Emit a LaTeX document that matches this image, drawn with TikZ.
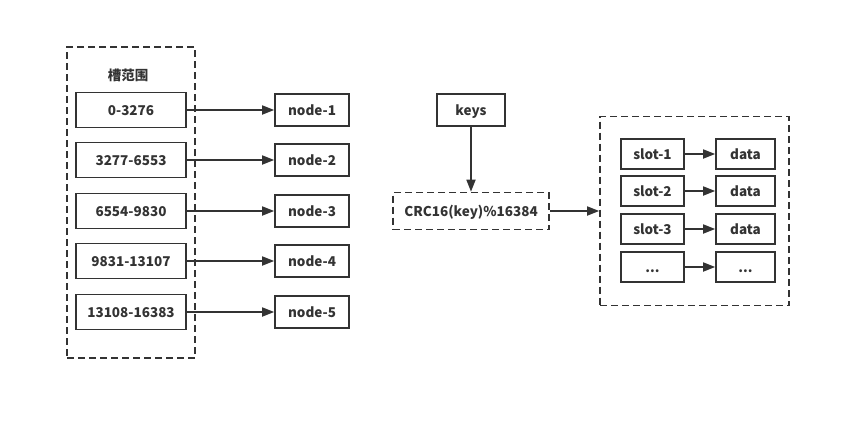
\documentclass[tikz,border=0pt]{standalone}
\usepackage{fontspec}
\setmainfont{Noto Sans CJK SC}
\usetikzlibrary{arrows.meta}
\definecolor{ink}{HTML}{333333}

\begin{document}
\begin{tikzpicture}[x=1pt,y=-1pt,
  font=\fontsize{13.5}{15}\selectfont\bfseries, text=ink,
  box/.style={draw=ink, line width=1.7pt, inner sep=0pt, text height=11pt, text depth=0pt, minimum width=#1},
  frame/.style={draw=ink, line width=1.7pt, dash pattern=on 7pt off 4pt, inner sep=0pt},
  link/.style={draw=ink, line width=1.7pt, -{Triangle[length=12pt,width=9pt]}}]
 \useasboundingbox (0,0) rectangle (850,421);

 % slot ranges
 \node[frame, minimum width=128pt, minimum height=311pt] (ranges) at (131,202.5) {};
 \node (title) at (128,75) {槽范围};
 \node[box=110pt, minimum height=35pt] (r1) at (131,110) {0-3276};
 \node[box=110pt, minimum height=35pt] (r2) at (131,160) {3277-6553};
 \node[box=110pt, minimum height=35pt] (r3) at (131,211) {6554-9830};
 \node[box=110pt, minimum height=35pt] (r4) at (131,261) {9831-13107};
 \node[box=110pt, minimum height=35pt] (r5) at (131,312) {13108-16383};

 \node[box=74pt, minimum height=32pt] (n1) at (312,110) {node-1};
 \node[box=74pt, minimum height=32pt] (n2) at (312,160) {node-2};
 \node[box=74pt, minimum height=32pt] (n3) at (312,211) {node-3};
 \node[box=74pt, minimum height=32pt] (n4) at (312,261) {node-4};
 \node[box=74pt, minimum height=32pt] (n5) at (312,312) {node-5};

 \draw[link] (r1.east) -- (n1.west);
 \draw[link] (r2.east) -- (n2.west);
 \draw[link] (r3.east) -- (n3.west);
 \draw[link] (r4.east) -- (n4.west);
 \draw[link] (r5.east) -- (n5.west);

 % hashing
 \node[box=68pt, minimum height=32pt] (keys) at (471,110) {keys};
 \node[frame, text height=11pt, text depth=0pt, minimum width=156pt, minimum height=37pt] (crc) at (471,211) {CRC16(key)\%16384};
 \draw[link] (keys.south) -- (crc.north);

 % slots
 \node[frame, minimum width=189pt, minimum height=189pt] (slots) at (694.5,211) {};
 \draw[link] (crc.east) -- (slots.west);

 \node[box=63pt, minimum height=30pt] (s1) at (652.5,154) {slot-1};
 \node[box=63pt, minimum height=30pt] (s2) at (652.5,191) {slot-2};
 \node[box=63pt, minimum height=30pt] (s3) at (652.5,229) {slot-3};
 \node[box=63pt, minimum height=30pt] (s4) at (652.5,267) {...};

 \node[box=59pt, minimum height=30pt] (d1) at (745.5,154) {data};
 \node[box=59pt, minimum height=30pt] (d2) at (745.5,191) {data};
 \node[box=59pt, minimum height=30pt] (d3) at (745.5,229) {data};
 \node[box=59pt, minimum height=30pt] (d4) at (745.5,267) {...};

 \draw[link] (s1.east) -- (d1.west);
 \draw[link] (s2.east) -- (d2.west);
 \draw[link] (s3.east) -- (d3.west);
 \draw[link] (s4.east) -- (d4.west);
\end{tikzpicture}
\end{document}
